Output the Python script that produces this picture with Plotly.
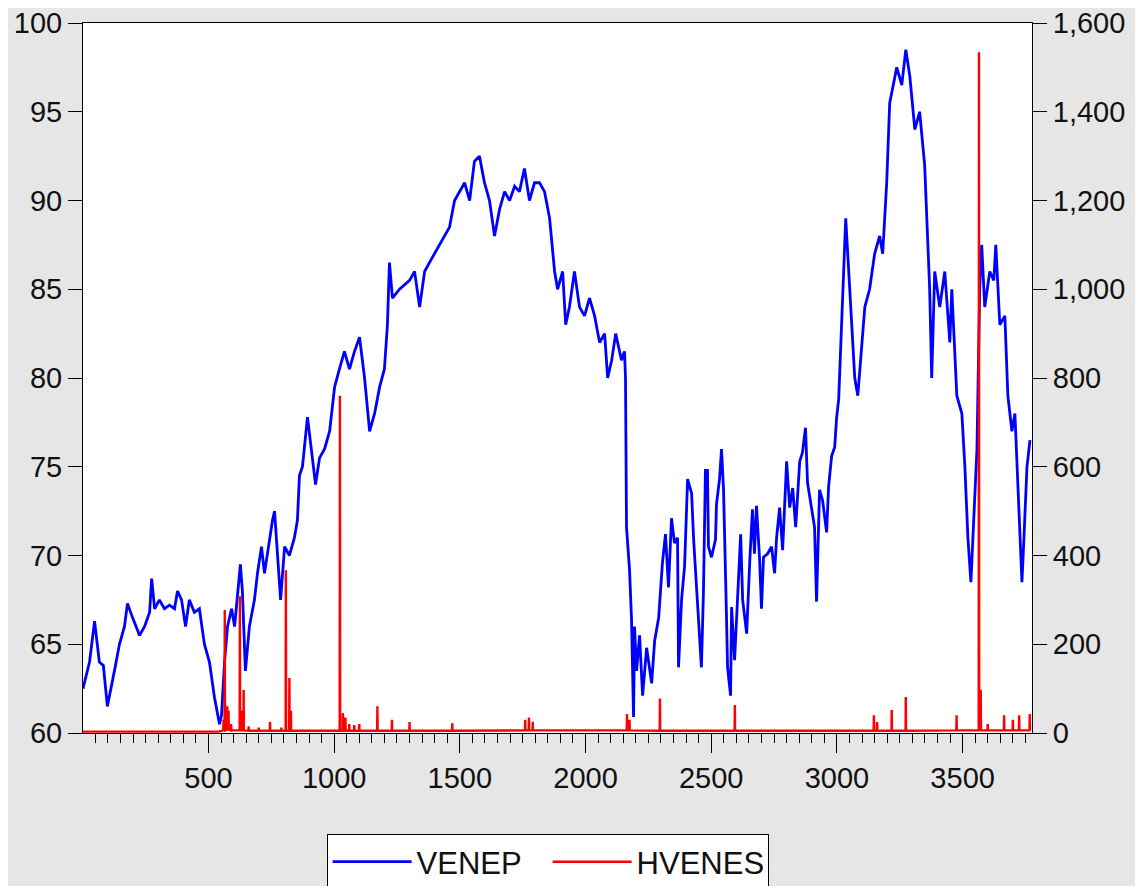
import plotly.graph_objects as go

venep_obs = [1, 27, 47, 66, 82, 98, 126, 146, 166, 178, 198, 226, 246, 266, 274, 286, 305, 325, 345, 365,
             377, 393, 409, 424, 444, 464, 484, 504, 524, 544, 552, 564, 576, 592, 604, 627, 635, 647, 663, 683,
             695, 711, 723, 743, 755, 763, 775, 787, 803, 822, 842, 854, 862, 874, 894, 910, 926, 942, 962, 982,
             1002, 1021, 1041, 1061, 1081, 1101, 1121, 1141, 1161, 1181, 1200, 1212, 1220, 1232, 1260, 1300, 1320, 1340, 1360, 1379,
             1419, 1439, 1459, 1479, 1499, 1519, 1539, 1558, 1578, 1598, 1618, 1638, 1658, 1678, 1698, 1718, 1737, 1757, 1777, 1797,
             1817, 1837, 1857, 1877, 1889, 1909, 1921, 1936, 1956, 1976, 1996, 2016, 2036, 2056, 2076, 2088, 2104, 2120, 2143, 2155,
             2159, 2163, 2175, 2183, 2191, 2195, 2203, 2215, 2227, 2243, 2263, 2275, 2291, 2306, 2318, 2330, 2342, 2354, 2366, 2370,
             2382, 2394, 2406, 2422, 2430, 2441, 2461, 2469, 2477, 2485, 2489, 2501, 2517, 2521, 2533, 2541, 2549, 2561, 2565, 2577,
             2581, 2593, 2605, 2617, 2625, 2641, 2653, 2664, 2672, 2680, 2692, 2700, 2708, 2724, 2740, 2752, 2760, 2772, 2784, 2792,
             2800, 2812, 2824, 2836, 2852, 2863, 2875, 2883, 2903, 2911, 2919, 2931, 2943, 2959, 2967, 2979, 2991, 2999, 3007,
             3023, 3035, 3051, 3071, 3083, 3099,
             3111, 3130, 3150, 3170, 3182, 3198, 3210, 3238, 3258, 3274, 3290, 3310, 3329, 3349, 3369, 3377, 3389, 3409, 3429, 3449,
             3457, 3477, 3497, 3509, 3521, 3533, 3549, 3557, 3568, 3576, 3588, 3608, 3624, 3632, 3648, 3668, 3680, 3696, 3708, 3720,
             3736, 3744, 3756, 3768]
venep_val = [62.5, 64.0, 66.3, 64.0, 63.8, 61.5, 63.5, 65.0, 66.0, 67.3, 66.5, 65.5, 66.0, 66.8, 68.7, 67.0, 67.5, 67.0, 67.2, 67.0,
             68.0, 67.5, 66.0, 67.5, 66.8, 67.0, 65.0, 64.0, 62.0, 60.5, 61.0, 64.0, 66.0, 67.0, 66.0, 69.5, 68.0, 63.5, 66.0, 67.5,
             69.0, 70.5, 69.0, 71.0, 72.0, 72.5, 70.0, 67.5, 70.5, 70.0, 71.0, 72.0, 74.5, 75.0, 77.8, 76.0, 74.0, 75.5, 76.0, 77.0,
             79.5, 80.5, 81.5, 80.5, 81.5, 82.3, 80.0, 77.0, 78.0, 79.5, 80.5, 83.0, 86.5, 84.5, 85.0, 85.5, 86.0, 84.0, 86.0, 86.5,
             87.5, 88.0, 88.5, 90.0, 90.5, 91.0, 90.0, 92.2, 92.5, 91.0, 90.0, 88.0, 89.5, 90.5, 90.0, 90.8, 90.5, 91.8, 90.0, 91.0,
             91.0, 90.5, 89.0, 86.0, 85.0, 86.0, 83.0, 84.0, 86.0, 84.0, 83.5, 84.5, 83.5, 82.0, 82.5, 80.0, 81.0, 82.5, 81.0, 81.5,
             80.0, 71.6, 69.2, 66.4, 60.9, 66.0, 63.5, 65.5, 62.1, 64.8, 62.8, 65.2, 66.5, 69.6, 71.2, 68.2, 72.1, 70.7, 71.0, 63.7,
             67.5, 69.4, 74.3, 73.5, 70.9, 68.5, 63.7, 67.9, 74.8, 74.8, 70.5, 69.9, 70.9, 72.9, 74.3, 76.0, 73.7, 66.4, 63.7, 62.1,
             67.1, 64.1, 67.7, 71.2, 67.5, 65.6, 69.6, 72.6, 70.1, 72.8, 69.9, 67.0, 69.9, 70.1, 70.5, 69.0, 71.0, 72.7, 70.3, 73.3,
             75.3, 72.7, 73.8, 71.6, 75.3, 75.8, 77.2, 74.1, 72.2, 71.6, 67.4, 73.7, 73.1, 71.3, 73.9, 75.6, 76.1, 77.8, 78.8,
             85.0, 89.0, 85.0, 80.0, 79.0, 82.0,
             84.0, 85.0, 87.0, 88.0, 87.0, 91.0, 95.5, 97.5, 96.5, 98.5, 97.0, 94.0, 95.0, 92.0, 85.0, 80.0, 86.0, 84.0, 86.0, 82.0,
             85.0, 79.0, 78.0, 75.0, 71.0, 68.5, 74.0, 76.0, 85.0, 87.5, 84.0, 86.0, 85.5, 87.5, 83.0, 83.5, 79.0, 77.0, 78.0, 74.0,
             68.5, 71.0, 75.0, 76.5]

hv_obs = [1, 540, 559, 560, 561, 564, 565, 566, 574, 575, 576, 579, 580, 581, 589, 590, 591,
          624, 625, 626, 629, 630, 631, 639, 640, 641, 659, 660, 661, 699, 700, 701, 744, 745, 746,
          789, 790, 791, 807, 808, 809, 821, 822, 823, 827, 828, 829, 900, 1022, 1023, 1024,
          1034, 1035, 1036, 1044, 1045, 1046, 1059, 1060, 1061, 1079, 1080, 1081, 1099, 1100, 1101,
          1171, 1172, 1173, 1229, 1230, 1231, 1299, 1300, 1301, 1469, 1470, 1471,
          1759, 1760, 1761, 1774, 1775, 1776, 1789, 1790, 1791, 2164, 2165, 2166, 2174, 2175, 2176,
          2295, 2296, 2297, 2593, 2594, 2595, 3146, 3147, 3148, 3159, 3160, 3161, 3217, 3218, 3219,
          3273, 3274, 3275, 3475, 3476, 3477, 3564, 3565, 3566, 3571, 3572, 3573, 3599, 3600, 3601,
          3664, 3665, 3666, 3699, 3700, 3701, 3724, 3725, 3726, 3766, 3767, 3768]
hv_val = [3, 3, 6, 30, 6, 6, 277, 6, 8, 60, 8, 8, 50, 8, 6, 20, 6,
          6, 308, 6, 6, 50, 6, 6, 97, 6, 5, 15, 5, 5, 12, 5, 5, 25, 5,
          5, 12, 5, 5, 367, 5, 5, 124, 5, 5, 50, 5, 5, 5, 760, 5,
          5, 45, 5, 5, 35, 5, 5, 20, 5, 5, 18, 5, 5, 20, 5,
          5, 60, 5, 5, 30, 5, 5, 25, 5, 5, 22, 5,
          6, 30, 6, 6, 35, 6, 6, 25, 6, 6, 43, 6, 6, 30, 6,
          5, 78, 5, 5, 63, 5, 5, 40, 5, 5, 25, 5, 5, 52, 5,
          5, 81, 5, 6, 40, 6, 6, 1534, 6, 6, 97, 6, 6, 20, 6,
          6, 40, 6, 6, 30, 6, 6, 40, 6, 6, 43, 6]

FONT = "Liberation Sans, Arial, sans-serif"

fig = go.Figure()
fig.add_trace(go.Scatter(x=venep_obs, y=venep_val, name="VENEP", mode="lines",
                         line=dict(color="#0000FF", width=2.8), yaxis="y"))
fig.add_trace(go.Scatter(x=hv_obs, y=hv_val, name="HVENES", mode="lines",
                         line=dict(color="#FF0000", width=2.4), yaxis="y2"))

axis_common = dict(showgrid=False, zeroline=False, showline=True, linecolor="black", linewidth=1,
                   ticks="outside", tickcolor="black", tickwidth=1, ticklabeloverflow="allow",
                   tickfont=dict(family=FONT, size=29, color="#111"))

# the page adds an 8px white body margin at left/top, so the figure is shifted by it
fig.update_layout(
    width=1135, height=878,
    margin=dict(l=75, r=111, t=15, b=153, autoexpand=False),
    paper_bgcolor="#E6E6E6", plot_bgcolor="white",
    showlegend=True,
    legend=dict(orientation="h", x=0.2567, xanchor="left", y=-0.1423, yanchor="top",
                bgcolor="white", bordercolor="black", borderwidth=1,
                itemwidth=79, entrywidth=126, entrywidthmode="pixels",
                font=dict(family=FONT, size=31, color="#111")),
    xaxis=dict(range=[1, 3776], tick0=0, dtick=500, ticklen=19, mirror=True,
               minor=dict(dtick=50, tick0=0, ticks="outside", ticklen=9, tickcolor="black", showgrid=False),
               **axis_common),
    yaxis=dict(range=[60, 100], dtick=5, ticklen=14, **axis_common),
    yaxis2=dict(range=[0, 1600], dtick=200, ticklen=14, tickformat=",", overlaying="y", side="right",
                **axis_common),
)

fig.write_html("out.html")
